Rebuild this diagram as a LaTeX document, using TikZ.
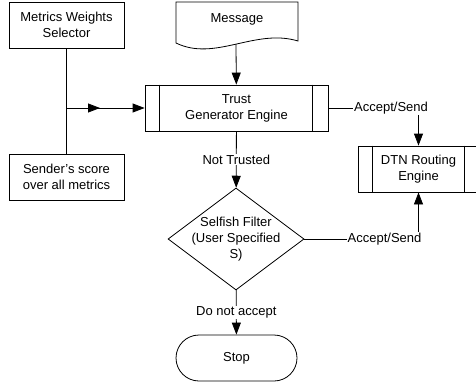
\documentclass[tikz,border=0pt]{standalone}
\usepackage{fontspec}
\setmainfont{Liberation Sans}
\usetikzlibrary{arrows.meta,shapes.geometric}

\begin{document}
\begin{tikzpicture}[x=1pt,y=-1pt,line width=0.8pt,
  font=\fontsize{13}{16}\selectfont,
  box/.style={draw,minimum width=115pt,minimum height=46pt,align=center,inner sep=0pt},
  lbl/.style={fill=white,inner sep=0.5pt},
  arr/.style={-{Triangle[length=12pt,width=9pt]}}]

\useasboundingbox (0,0) rectangle (476,385);
\clip (0,0) rectangle (476,385);

% left boxes
\node[box] (weights) at (66.5,25) {Metrics Weights\\Selector};
\node[box] (score) at (66.5,177) {Sender's score\\over all metrics};

% message (document shape)
\draw (176,2) -- (298,2) -- (298,41) .. controls (255,28) and (215,62) .. (176,43) -- cycle;
\node (msg) at (237,19) {Message};
\coordinate (msgb) at (236,44);

% processes
\node[box,minimum width=183pt] (trust) at (236.5,108) {Trust\\Generator Engine};
\draw ([xshift=15pt]trust.north west) -- ([xshift=15pt]trust.south west);
\draw ([xshift=-16pt]trust.north east) -- ([xshift=-16pt]trust.south east);

\node[box,minimum width=121pt] (dtn) at (418.5,169) {DTN Routing\\Engine};
\draw ([xshift=15pt]dtn.north west) -- ([xshift=15pt]dtn.south west);
\draw ([xshift=-15pt]dtn.north east) -- ([xshift=-15pt]dtn.south east);

% decision and end
\node[draw,diamond,minimum width=136pt,minimum height=102pt,inner sep=0pt] (filter) at (236,239) {};
\node[align=center] at (filter) {Selfish Filter\\(User Specified\\S)};
\node[draw,rounded corners=23pt,minimum width=121pt,minimum height=46pt] (stop) at (236.5,358) {Stop};

% connectors
\draw (weights) -- (score);
\coordinate (join) at (weights.south |- trust.west);
\coordinate (mid) at (100,108);
\draw[arr] (join) -- (mid);
\draw[arr] (join) -- (trust.west);
\draw[arr] (msgb) -- (trust);
\draw[arr] (trust) -- node[lbl] {Not Trusted} (filter);

\node[lbl] (send1) at (391,108) {Accept/Send};
\draw (trust) -- (send1);
\draw[arr] (send1.south -| dtn) -- (dtn);

\node[lbl] (send2) at (384.5,239) {Accept/Send};
\draw (filter) -- (send2);
\draw[arr] (send2.north -| dtn) -- (dtn);

\draw[arr] (filter) -- node[lbl] {Do not accept} (stop);

\end{tikzpicture}
\end{document}
